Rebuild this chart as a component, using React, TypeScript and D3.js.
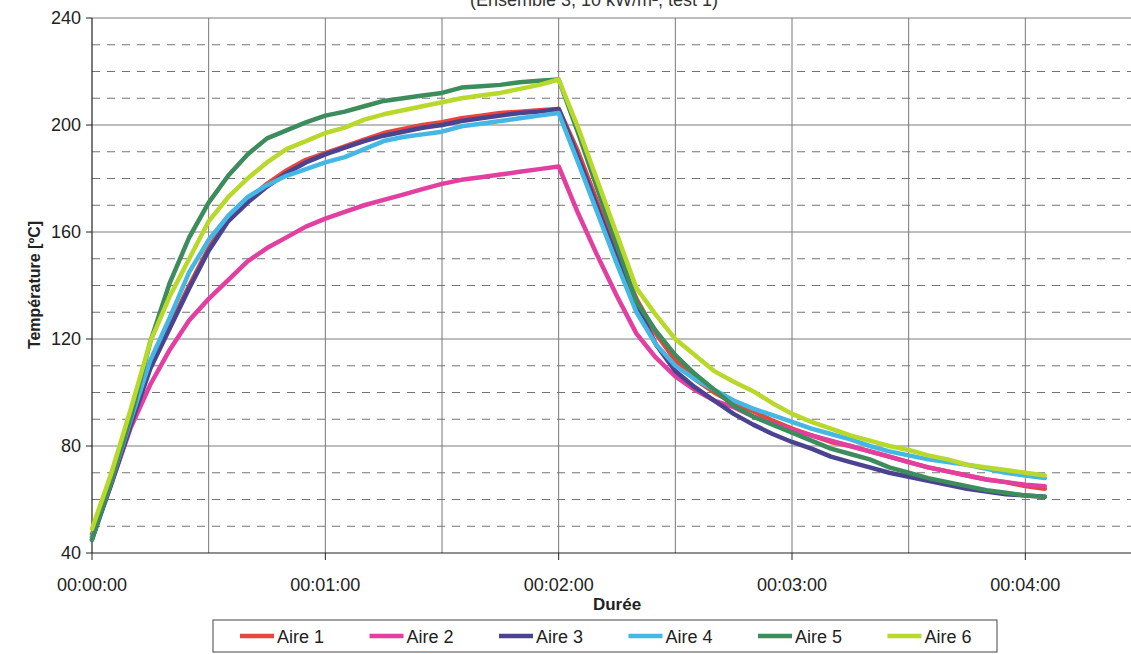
import * as d3 from 'd3'

// temps en secondes, une mesure toutes les 5 s
const temps = [0, 5, 10, 15, 20, 25, 30, 35, 40, 45, 50, 55, 60, 65, 70, 75, 80, 85, 90, 95,
  100, 105, 110, 115, 120, 125, 130, 135, 140, 145, 150, 155, 160, 165, 170, 175, 180, 185, 190, 195,
  200, 205, 210, 215, 220, 225, 230, 235, 240, 245]

const aire1 = [47, 67, 89, 110, 125, 140, 154, 165, 172, 178, 183, 187, 189.5, 192, 194.5, 197, 198.5, 200, 201, 202.5,
  203.5, 204.5, 205, 205.5, 206, 190, 171, 152, 135, 122, 112, 105, 100, 96, 93, 89.5, 86.5, 84, 81.5, 80,
  78, 76, 74, 72, 70.5, 69, 67.5, 66.5, 65, 64]
const aire2 = [46, 66, 87, 103, 116, 127, 135, 142, 149, 154, 158, 162, 165, 167.5, 170, 172, 174, 176, 178, 179.5,
  180.5, 181.5, 182.5, 183.5, 184.5, 167, 151, 136, 122, 113, 106, 101, 97, 94.5, 91, 88.5, 86, 84, 82, 80,
  78, 76, 74, 72, 70.5, 69, 67.5, 66.5, 65.5, 65]
const aire3 = [45, 66, 88, 109, 124, 139, 153, 164, 171, 177, 182, 186, 189, 191.5, 194, 196, 197.5, 199, 200, 201.5,
  202.5, 203.5, 204.5, 205, 206, 188, 169, 150, 133, 118, 108, 102, 97, 92, 88, 84.5, 81.5, 79, 76, 74,
  72, 70, 68.5, 67, 65.5, 64, 63, 62, 61.5, 61]
const aire4 = [46, 67, 90, 112, 128, 145, 157, 166, 173, 177.5, 181, 183.5, 186, 188, 191, 194, 195.5, 196.5, 197.5, 199.5,
  200.5, 201.5, 202.5, 203.5, 204.5, 186, 167, 148, 130, 118, 110, 105, 101, 97, 94, 91.5, 89, 86.5, 84.5, 82.5,
  80, 78, 76.5, 75, 74, 73, 71.5, 70, 69, 68]
const aire5 = [45, 67, 91, 119, 141, 158, 171, 181, 189, 195, 198, 201, 203.5, 205, 207, 209, 210, 211, 212, 214,
  214.5, 215, 216, 216.5, 217, 197, 176, 155, 134, 123, 114, 107, 101, 95, 91, 88, 85, 82, 79, 77,
  75, 72, 70, 68, 66.5, 65, 63.5, 62.5, 61.5, 61]
const aire6 = [49, 70, 94, 119, 136, 150, 164, 173, 180, 186, 191, 194, 197, 199, 202, 204, 205.5, 207, 208.5, 210,
  211, 212, 213.5, 215, 217, 199, 179, 159, 139, 129, 120, 114, 108, 104, 100.5, 96, 92, 89, 86.5, 84,
  82, 80, 78.5, 76.5, 75, 73, 72, 71, 70, 69]

const noms = ['Aire 1', 'Aire 2', 'Aire 3', 'Aire 4', 'Aire 5', 'Aire 6']
const valeurs = [aire1, aire2, aire3, aire4, aire5, aire6]
const couleurs = ['#e8453c', '#e23fa0', '#4b4390', '#44b8e2', '#3c8c5c', '#b8d82a']

const yMajeurs = [40, 80, 120, 160, 200, 240]
const yMineurs = [50, 60, 70, 90, 100, 110, 130, 140, 150, 170, 180, 190, 210, 220, 230]
const xGrille = [30, 60, 90, 120, 150, 180, 210, 240]
const xTicks = [0, 60, 120, 180, 240]

const W = 1131, H = 654
const font = '"Liberation Sans", Arial, sans-serif'

export default function App() {
  const x = d3.scaleLinear().domain([0, 270]).range([92, 1142])
  const y = d3.scaleLinear().domain([40, 240]).range([553, 18])

  const fmt = (s: number) => {
    const m = Math.floor(s / 60), sec = s % 60
    return `00:${d3.format('02')(m)}:${d3.format('02')(sec)}`
  }

  const line = d3.line<number>()
    .x((d, i) => x(temps[i]))
    .y((d) => y(d))

  return (
    <svg width={W} height={H} style={{ position: 'absolute', left: 0, top: 0, background: '#fff' }}
      fontFamily={font}>
      <text x={594} y={6} textAnchor="middle" fontSize={18} fill="#333">(Ensemble 3, 10 kW/m², test 1)</text>

      {/* grille */}
      {yMineurs.map((v) => (
        <line key={'m' + v} x1={x(0)} x2={W} y1={y(v)} y2={y(v)} stroke="#747474" strokeWidth={1} strokeDasharray="8 7" />
      ))}
      {yMajeurs.slice(1).map((v) => (
        <line key={'M' + v} x1={x(0)} x2={W} y1={y(v)} y2={y(v)} stroke="#7c7c7c" strokeWidth={1} />
      ))}
      {xGrille.map((v) => (
        <line key={'v' + v} x1={x(v)} x2={x(v)} y1={y(240)} y2={y(40)} stroke="#777" strokeWidth={1} />
      ))}

      {/* axes */}
      <line x1={x(0)} x2={x(0)} y1={y(240)} y2={y(40)} stroke="#222" strokeWidth={1.2} />
      <line x1={x(0)} x2={W} y1={y(40)} y2={y(40)} stroke="#222" strokeWidth={1.2} />
      {yMajeurs.map((v) => (
        <g key={'yt' + v}>
          <line x1={x(0) - 6} x2={x(0)} y1={y(v)} y2={y(v)} stroke="#222" />
          <text x={x(0) - 11} y={y(v) + 6} textAnchor="end" fontSize={18} fill="#222">{v}</text>
        </g>
      ))}
      {xTicks.map((v) => (
        <g key={'xt' + v}>
          <line x1={x(v)} x2={x(v)} y1={y(40)} y2={y(40) + 7} stroke="#222" />
          <text x={x(v)} y={591} textAnchor="middle" fontSize={18} fill="#222">{fmt(v)}</text>
        </g>
      ))}

      <text transform={`translate(40, 285) rotate(-90)`} textAnchor="middle" fontSize={16} fontWeight="bold" fill="#222">
        Température [ºC]
      </text>
      <text x={617} y={610} textAnchor="middle" fontSize={17} fontWeight="bold" fill="#222">Durée</text>

      {/* courbes */}
      {valeurs.map((serie, i) => (
        <path key={noms[i]} d={line(serie) || ''} fill="none" stroke={couleurs[i]} strokeWidth={4.5}
          strokeLinejoin="round" strokeLinecap="round" />
      ))}

      {/* légende */}
      <rect x={213} y={620} width={784} height={32} fill="#fff" stroke="#444" strokeWidth={1} />
      {noms.map((n, i) => (
        <g key={'lg' + n} transform={`translate(${240 + i * 129.5}, 0)`}>
          <line x1={0} x2={34} y1={636} y2={636} stroke={couleurs[i]} strokeWidth={4.5} />
          <text x={37} y={643} fontSize={18} fill="#222">{n}</text>
        </g>
      ))}
    </svg>
  )
}
